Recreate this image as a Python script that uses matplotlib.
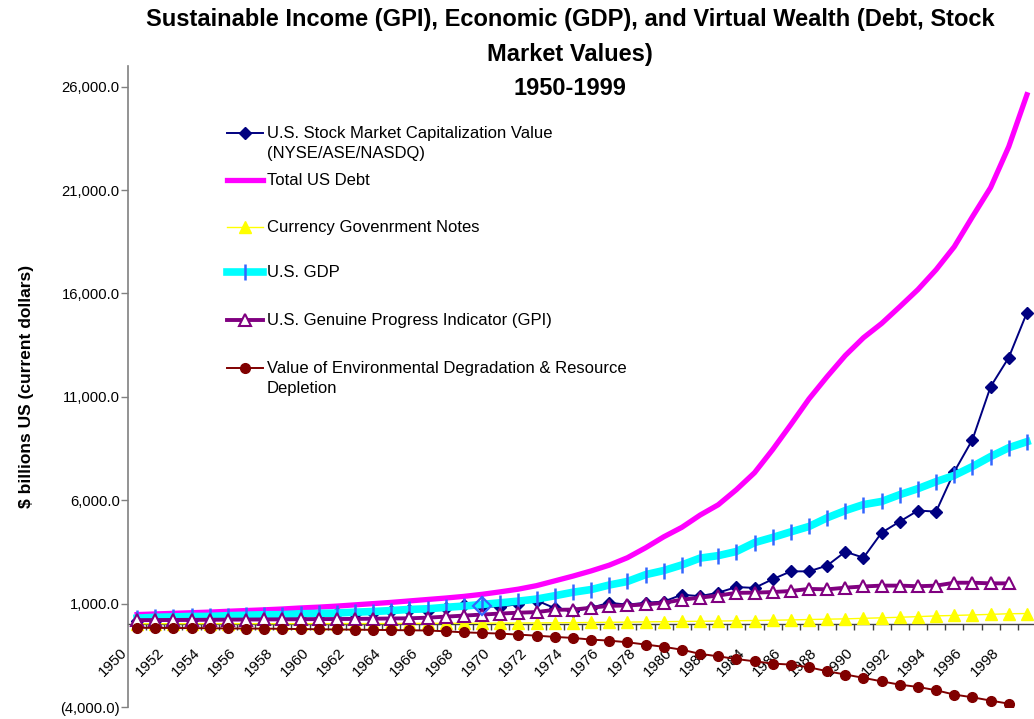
import matplotlib.pyplot as plt
from matplotlib.lines import Line2D
from matplotlib.ticker import FuncFormatter, FixedLocator
from matplotlib.transforms import ScaledTranslation

plt.rcParams['font.family'] = ['Liberation Sans', 'DejaVu Sans']

years = list(range(1950, 2000))

# $ billions, current dollars
stock = [150, 170, 190, 190, 250, 310, 330, 300, 400, 440,
         440, 530, 480, 560, 630, 710, 620, 800, 950, 870,
         850, 980, 1150, 780, 620, 800, 1040, 950, 1040, 1100,
         1430, 1360, 1530, 1800, 1760, 2180, 2560, 2560, 2840, 3510,
         3220, 4430, 4970, 5500, 5450, 7380, 8930, 11490, 12900, 15070]
debt = [470, 500, 530, 560, 590, 630, 665, 700, 740, 790,
        830, 880, 940, 1000, 1060, 1130, 1200, 1270, 1350, 1450,
        1570, 1700, 1870, 2100, 2330, 2580, 2860, 3220, 3700, 4230,
        4690, 5280, 5780, 6510, 7330, 8450, 9660, 10900, 11980, 13000,
        13860, 14550, 15360, 16190, 17150, 18260, 19710, 21120, 23100, 25610]
currency = [27, 28, 30, 31, 30, 31, 31, 31, 32, 32,
            33, 33, 35, 37, 39, 42, 44, 47, 50, 53,
            57, 61, 66, 72, 79, 87, 96, 105, 116, 126,
            137, 145, 156, 170, 182, 196, 212, 230, 248, 262,
            289, 313, 340, 371, 406, 428, 453, 480, 510, 520]
gdp = [294, 339, 358, 379, 380, 415, 438, 461, 467, 507,
       527, 545, 586, 618, 664, 719, 750, 820, 880, 960,
       1040, 1120, 1220, 1380, 1550, 1680, 1900, 2070, 2400, 2600,
       2870, 3200, 3320, 3520, 3950, 4200, 4470, 4730, 5150, 5500,
       5790, 5940, 6270, 6560, 6900, 7200, 7630, 8110, 8540, 8830]
gpi = [200, 205, 210, 215, 220, 225, 230, 235, 240, 245,
       250, 255, 260, 270, 280, 290, 320, 370, 420, 470,
       520, 560, 590, 700, 710, 800, 890, 910, 960, 1040,
       1190, 1290, 1390, 1520, 1530, 1560, 1610, 1710, 1690, 1770,
       1830, 1870, 1870, 1840, 1870, 2010, 2010, 1980, 1980]
env = [-170, -175, -180, -185, -190, -200, -205, -210, -220, -230,
       -240, -250, -260, -270, -280, -290, -300, -340, -390, -420,
       -450, -500, -550, -610, -660, -740, -790, -870, -980, -1090,
       -1230, -1430, -1550, -1680, -1790, -1900, -1950, -2080, -2270, -2430,
       -2590, -2760, -2920, -3030, -3190, -3400, -3530, -3690, -3840]

labels = ["U.S. Stock Market Capitalization Value\n(NYSE/ASE/NASDQ)",
          "Total US Debt",
          "Currency Govenrment Notes",
          "U.S. GDP",
          "U.S. Genuine Progress Indicator (GPI)",
          "Value of Environmental Degradation & Resource\nDepletion"]

W, H = 1034, 719
fig = plt.figure(figsize=(W / 100, H / 100), dpi=100)
ax = fig.add_axes([128 / W, 1 - 707 / H, 908 / W, 641 / H])

x = list(range(len(years)))
n = len(gpi)

# series styles (shared with the legend)
styles = [
    dict(color='#000080', lw=1.4, marker='D', ms=6, mfc='#000080', mec='#000080'),
    dict(color='#FF00FF', lw=3.8),
    dict(color='#FFFF00', lw=1.0, marker='^', ms=8, mfc='#FFFF00', mec='#FFFF00'),
    dict(color='#00FFFF', lw=5.5, marker='|', ms=11, mew=1.8, mec='#3366FF'),
    dict(color='#800080', lw=2.8, marker='^', ms=9, mfc='white', mec='#800080', mew=1.5),
    dict(color='#800000', lw=1.4, marker='o', ms=7, mfc='#800000', mec='#800000'),
]

ax.plot(x, stock, **styles[0], zorder=3)
ax.plot(x[19], stock[19], marker='D', ms=9, mfc='none', mec='#3366FF', mew=1.6, zorder=8)
ax.plot(x, debt, **styles[1], zorder=4)
ax.plot(x, currency, **styles[2], zorder=5)
ax.plot(x, gdp, **styles[3], zorder=6)
ax.plot(x[:n], gpi, **styles[4], zorder=7)
ax.plot(x[:n], env, **styles[5], zorder=9)

ax.set_xlim(-0.5, 49.5)
ax.set_ylim(-4000, 27000)

# y axis
ax.set_yticks(range(-4000, 26001, 5000))
ax.yaxis.set_major_formatter(FuncFormatter(
    lambda v, p: f"{v:,.1f}" if v >= 0 else f"({-v:,.1f})"))
ax.tick_params(axis='y', direction='out', length=5, width=1, color='#808080',
               labelsize=10.6, pad=1)
ax.set_ylabel("$ billions US (current dollars)", fontsize=12.5, fontweight='bold',
              labelpad=19)

# x axis sits on zero
for s in ['top', 'right']:
    ax.spines[s].set_visible(False)
ax.spines['left'].set_color('#808080')
ax.spines['left'].set_linewidth(1.2)
ax.spines['bottom'].set_position(('data', 0))
ax.spines['bottom'].set_color('#404040')
ax.spines['bottom'].set_linewidth(1.0)
ax.spines['bottom'].set_zorder(2)

ax.xaxis.set_major_locator(FixedLocator(x[::2]))
ax.xaxis.set_minor_locator(FixedLocator([i + 0.5 for i in x[:-1]]))
ax.set_xticklabels([str(y) for y in years[::2]], rotation=45, ha='right',
                   va='top', rotation_mode='anchor')
ax.tick_params(axis='x', which='major', length=0, labelsize=10.8, pad=15)
ax.tick_params(axis='x', which='minor', direction='out', length=4, width=1,
               color='#404040')
shift = ScaledTranslation(-17 / 100, 0, fig.dpi_scale_trans)
for lab in ax.get_xticklabels():
    lab.set_transform(lab.get_transform() + shift)

# title
fig.text(570 / W, 1 - 8 / H,
         "Sustainable Income (GPI), Economic (GDP), and Virtual Wealth (Debt, Stock\n"
         "Market Values)\n1950-1999",
         ha='center', va='top', fontsize=17, fontweight='bold', linespacing=1.64)

# legend drawn entry by entry
rows = [133, 180, 227, 272, 320, 368]
for st, lab, yy in zip(styles, labels, rows):
    yf = 1 - yy / H
    line_kw = {k: v for k, v in st.items() if k not in ('marker', 'ms', 'mfc', 'mec', 'mew')}
    fig.add_artist(Line2D([227 / W, 263 / W], [yf, yf], **line_kw))
    if 'marker' in st:
        mk = {k: v for k, v in st.items() if k in ('marker', 'ms', 'mfc', 'mec', 'mew')}
        fig.add_artist(Line2D([245 / W], [yf], lw=0, **mk))
    fig.text(267 / W, yf + 7 / H, lab, ha='left', va='top', fontsize=12,
             linespacing=1.4)

fig.savefig("out.png", dpi=100)
